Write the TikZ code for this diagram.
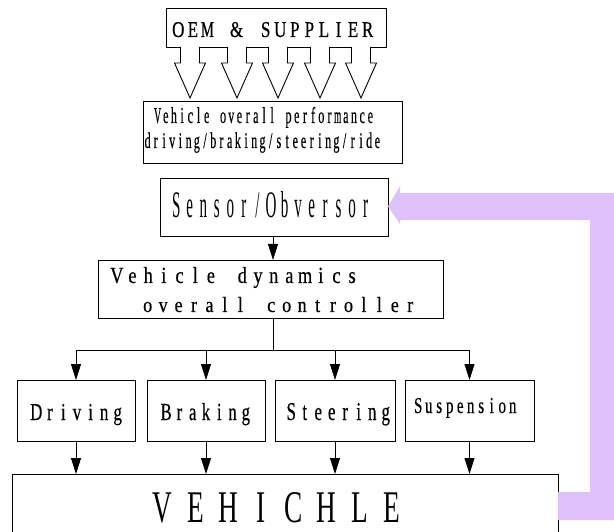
\documentclass[tikz,border=0pt]{standalone}
\usepackage{fontspec}
\setmainfont{Liberation Serif}
\newfontfamily\boldish{Liberation Serif}[FakeBold=0.45]
\usepackage{graphicx}
\usetikzlibrary{arrows.meta}
\definecolor{fbpurple}{RGB}{223,193,252}
\newdimen\cellw
\newdimen\glyphmax
\newcommand{\cells}[1]{\cellsi#1\relax}
\def\cellsi#1{\ifx\relax#1\else\cellchar{#1}\expandafter\cellsi\fi}
\newcommand{\cellchar}[1]{\sbox0{#1}\ifdim\wd0>\glyphmax
  \makebox[\cellw]{\resizebox{\glyphmax}{\ht0}{#1}}\else\makebox[\cellw]{#1}\fi}
\newcommand{\fitt}[4][0.68]{{\cellw=#1em \glyphmax=\cellw
  \advance\glyphmax by -0.08em
  \resizebox{#2pt}{#3pt}{\cells{#4}}}}
\begin{document}
\begin{tikzpicture}[x=1pt,y=-1pt,
  box/.style={draw, line width=0.9pt, inner sep=0pt, outer sep=0pt},
  txt/.style={anchor=base, inner sep=0pt},
  arr/.style={line width=0.8pt, -{Triangle[length=16pt,width=10pt]}},
  hollow/.style={draw, line width=0.9pt, fill=white}]
\useasboundingbox (0,0) rectangle (614,532);
\clip (0,0) rectangle (614,532);
\fill[white] (0,0) rectangle (614,532);

% boxes
\node[box, minimum width=220pt, minimum height=39pt] (oem) at (276,27.5) {};
\node[box, minimum width=259pt, minimum height=62pt] (perf) at (272.5,132) {};
\node[box, minimum width=228pt, minimum height=58pt] (sensor) at (274,207) {};
\node[box, minimum width=345pt, minimum height=58pt] (ctrl) at (270.5,289) {};
\node[box, minimum width=118pt, minimum height=61pt] (drv) at (76,410.5) {};
\node[box, minimum width=118pt, minimum height=61pt] (brk) at (206,410.5) {};
\node[box, minimum width=120pt, minimum height=61pt] (str) at (335,410.5) {};
\node[box, minimum width=129pt, minimum height=61pt] (susp) at (469.5,410.5) {};
\node[box, minimum width=546pt, minimum height=71pt] (veh) at (285,509.5) {};

% texts
\node[txt] (toem) at (273,37) {\boldish\fitt[0.85]{204}{15}{OEM~\&~SUPPLIER}};
\node[txt] (tperf1) at (264,123) {\boldish\fitt{221}{16}{Vehicle~overall~performance}};
\node[txt] (tperf2) at (262.5,148) {\boldish\fitt{238}{15.5}{driving/braking/steering/ride}};
\node[txt] (tsensor) at (271,218) {\fitt[0.9]{203}{26}{Sensor/Obversor}};
\node[txt] (tctrl1) at (234.5,283) {\boldish\fitt[0.85]{251}{16}{Vehicle~dynamics}};
\node[txt] (tctrl2) at (279,312) {\boldish\fitt[0.85]{278}{15}{overall~controller}};
\node[txt] (tdrv) at (77,420) {\boldish\fitt[0.8]{95}{16}{Driving}};
\node[txt] (tbrk) at (206,420) {\boldish\fitt[0.8]{93}{17}{Braking}};
\node[txt] (tstr) at (338.5,420) {\boldish\fitt[0.8]{108}{17}{Steering}};
\node[txt] (tsusp) at (465.5,413) {\boldish\fitt[0.7]{105}{15}{Suspension}};
\node[txt] (tveh) at (277.5,522) {\fitt[1.2]{262}{30}{VEHICHLE}};

% hollow arrows OEM -> performance
\foreach \x in {190,237,278,320,361}{
  \draw[hollow] (\x-9.5,47) -- (\x-9.5,63) -- (\x-15.5,63) -- (\x,98)
     -- (\x+15.5,63) -- (\x+9.5,63) -- (\x+9.5,47);
}

% connectors
\coordinate (j) at (273,350);
\draw[arr] (sensor.south -| j) -- (ctrl.north -| j);
\draw[line width=0.8pt] (ctrl.south -| j) -- (j);
\draw[line width=0.8pt] (drv.north |- j) -- (susp.north |- j);
\foreach \b in {drv,brk,str,susp}{
  \draw[arr] (\b.north |- j) -- (\b.north);
  \draw[arr] (\b.south) -- (\b.south |- veh.north);
}

% purple feedback arrow
\coordinate (pa) at (veh.east |- 0,492);
\fill[fbpurple] (pa) -- (590,492) -- (590,220) -- (400,220) -- (400,224)
  -- (sensor.east |- 0,206.5) -- (400,186) -- (400,193) -- (618,193)
  -- (618,520) -- (veh.east |- 0,520) -- cycle;
\end{tikzpicture}
\end{document}
